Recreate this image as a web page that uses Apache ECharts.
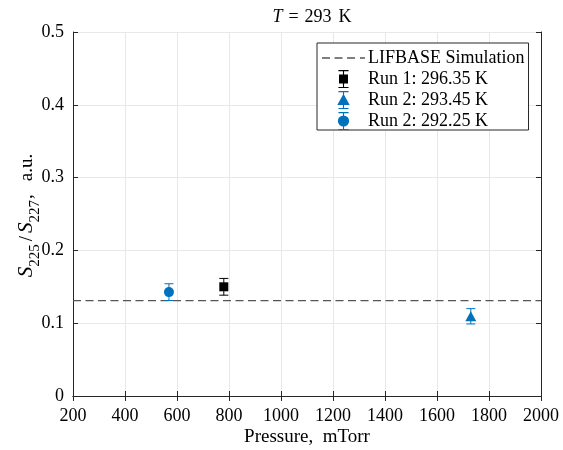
<!DOCTYPE html>
<html><head><meta charset="utf-8">
<script src="https://cdn.jsdelivr.net/npm/echarts@6/dist/echarts.min.js"></script>
<style>html,body{margin:0;padding:0;background:#fff}#c{width:563px;height:450px}</style>
</head><body><div id="c"></div>
<script>
// ---- data ----
const xTicks = [200, 400, 600, 800, 1000, 1200, 1400, 1600, 1800, 2000];
const yTicks = [0, 0.1, 0.2, 0.3, 0.4, 0.5];
const lifbaseName = 'LIFBASE Simulation';
const lifbaseX = [200, 2000];
const lifbaseY = [0.131, 0.131];
const run1Name = 'Run 1: 296.35 K';
const run1P = [780];
const run1S = [0.150];
const run1Err = [0.0115];
const run2aName = 'Run 2: 293.45 K';
const run2aP = [1730];
const run2aS = [0.1095];
const run2aErr = [0.0105];
const run2bName = 'Run 2: 292.25 K';
const run2bP = [569];
const run2bS = [0.1427];
const run2bErr = [0.0115];

const FONT = 'Liberation Serif';
const BLUE = '#0072BD';
const AX = '#262626';

function pts(xs, ys) { return xs.map((x, i) => [x, ys[i]]); }
function errs(xs, ys, es) { return xs.map((x, i) => [x, ys[i] - es[i], ys[i] + es[i]]); }

function errSeries(data, color) {
  return {
    type: 'custom', data: data, z: 3, silent: true,
    renderItem: function (params, api) {
      const x = api.value(0);
      const lo = api.coord([x, api.value(1)]);
      const hi = api.coord([x, api.value(2)]);
      const hw = 4.5;
      const st = { stroke: color, lineWidth: 1 };
      return { type: 'group', children: [
        { type: 'line', shape: { x1: lo[0], y1: lo[1], x2: hi[0], y2: hi[1] }, style: st },
        { type: 'line', shape: { x1: lo[0] - hw, y1: lo[1], x2: lo[0] + hw, y2: lo[1] }, style: st },
        { type: 'line', shape: { x1: hi[0] - hw, y1: hi[1], x2: hi[0] + hw, y2: hi[1] }, style: st }
      ]};
    }
  };
}

const iconDash = 'path://M0,0H8V1.3H0Z M12.5,0H20.5V1.3H12.5Z M25,0H33V1.3H25Z M38,0H43V1.3H38Z';
const iconSquare = 'path://M0,0H9V1H0Z M4,0H5V16H4Z M0.5,4H8.5V12H0.5Z M0,15H9V16H0Z';
const iconTri = 'path://M0,0H9V1H0Z M4,0H5V16H4Z M4.5,2.5L10,12.5H-1Z M0,15H9V16H0Z';
const iconCirc = 'path://M0,0H9V1H0Z M4,0H5V16H4Z M4.5,3A5,5 0 1,1 4.49,3Z M0,15H9V16H0Z';

const chart = echarts.init(document.getElementById('c'));
const axisCommon = {
  axisLine: { show: true, lineStyle: { color: AX, width: 1 } },
  axisTick: { show: true, inside: true, length: 5, lineStyle: { color: AX } },
};
chart.setOption({
  animation: false,
  backgroundColor: '#fff',
  title: {
    text: '{i|T}{m|=}{n|293}{k|K}', left: 307, top: 3, textAlign: 'center',
    textStyle: { fontFamily: FONT, fontSize: 18, fontWeight: 'normal', color: '#000',
      rich: {
        i: { fontFamily: FONT, fontSize: 18, fontStyle: 'italic', color: '#000' },
        m: { fontFamily: FONT, fontSize: 18, color: '#000', padding: [0, 6, 0, 6] },
        n: { fontFamily: FONT, fontSize: 18, color: '#000' },
        k: { fontFamily: FONT, fontSize: 18, color: '#000', padding: [0, 0, 0, 7] }
      } }
  },
  grid: { left: 73, right: 22, top: 32, bottom: 54, containLabel: false, outerBoundsMode: 'none' },
  legend: {
    orient: 'vertical', left: 317, top: 43,
    data: [
      { name: lifbaseName, icon: iconDash },
      { name: run1Name, icon: iconSquare },
      { name: run2aName, icon: iconTri },
      { name: run2bName, icon: iconCirc }
    ],
    itemWidth: 43, itemHeight: 18, itemGap: 3, symbolKeepAspect: true,
    padding: [6, 4, 0, 5],
    backgroundColor: '#fff', borderColor: AX, borderWidth: 1, borderRadius: 0,
    textStyle: { fontFamily: FONT, fontSize: 18, color: '#000', padding: [0, 0, 0, -2] }
  },
  xAxis: [
    Object.assign({
      type: 'value', min: 200, max: 2000, interval: 200, position: 'bottom',
      name: 'Pressure,  mTorr', nameLocation: 'middle', nameGap: 32, nameMoveOverlap: false,
      nameTextStyle: { fontFamily: FONT, fontSize: 19, color: '#000' },
      axisLabel: { fontFamily: FONT, fontSize: 18, color: '#000', margin: 11,
        formatter: v => xTicks.includes(v) ? String(v) : '' },
      splitLine: { show: true, lineStyle: { color: '#e8e8e8', width: 1 } }
    }, axisCommon),
    Object.assign({
      type: 'value', min: 200, max: 2000, interval: 200, position: 'top',
      axisLabel: { show: false }, splitLine: { show: false }
    }, axisCommon)
  ],
  yAxis: [
    Object.assign({
      type: 'value', min: 0, max: 0.5, interval: 0.1, position: 'left',
      name: '{i|S}{s|225}{n|/}{i|S}{s|227}{c|,}{n|a.u.}', nameLocation: 'middle', nameGap: 36,
      nameRotate: 90, nameMoveOverlap: false,
      nameTextStyle: { fontFamily: FONT, fontSize: 19, color: '#000',
        rich: {
          i: { fontFamily: FONT, fontSize: 21, fontStyle: 'italic', color: '#000', verticalAlign: 'bottom', lineHeight: 22 },
          s: { fontFamily: FONT, fontSize: 15, color: '#000', verticalAlign: 'bottom', lineHeight: 22, padding: [0, 0, -6, 0] },
          n: { fontFamily: FONT, fontSize: 19, color: '#000', verticalAlign: 'bottom', lineHeight: 22, padding: [0, 3, 0, 3] },
          c: { fontFamily: FONT, fontSize: 19, color: '#000', verticalAlign: 'bottom', lineHeight: 22, padding: [0, 10, 0, 1] }
        } },
      axisLabel: { fontFamily: FONT, fontSize: 18, color: '#000', margin: 9,
        formatter: v => { const m = yTicks.find(t => Math.abs(t - v) < 1e-9); return m === undefined ? '' : (m === 0 ? '0' : String(m)); } },
      splitLine: { show: true, lineStyle: { color: '#e8e8e8', width: 1 } }
    }, axisCommon),
    Object.assign({
      type: 'value', min: 0, max: 0.5, interval: 0.1, position: 'right',
      axisLabel: { show: false }, splitLine: { show: false }
    }, axisCommon)
  ],
  series: [
    { name: lifbaseName, type: 'line', data: pts(lifbaseX, lifbaseY), symbol: 'none', z: 2,
      lineStyle: { color: '#555', width: 1.3, type: [8, 4.5] }, itemStyle: { color: '#555' } },
    errSeries(errs(run1P, run1S, run1Err), '#000'),
    errSeries(errs(run2aP, run2aS, run2aErr), BLUE),
    errSeries(errs(run2bP, run2bS, run2bErr), BLUE),
    { name: run1Name, type: 'scatter', data: pts(run1P, run1S), symbol: 'rect', symbolSize: 9, z: 4,
      itemStyle: { color: '#000', opacity: 1 } },
    { name: run2aName, type: 'scatter', data: pts(run2aP, run2aS), symbol: 'triangle', symbolSize: [11, 10], z: 4,
      itemStyle: { color: BLUE, opacity: 1 } },
    { name: run2bName, type: 'scatter', data: pts(run2bP, run2bS), symbol: 'circle', symbolSize: 10, z: 4,
      itemStyle: { color: BLUE, opacity: 1 } }
  ]
});
</script>
</body></html>
